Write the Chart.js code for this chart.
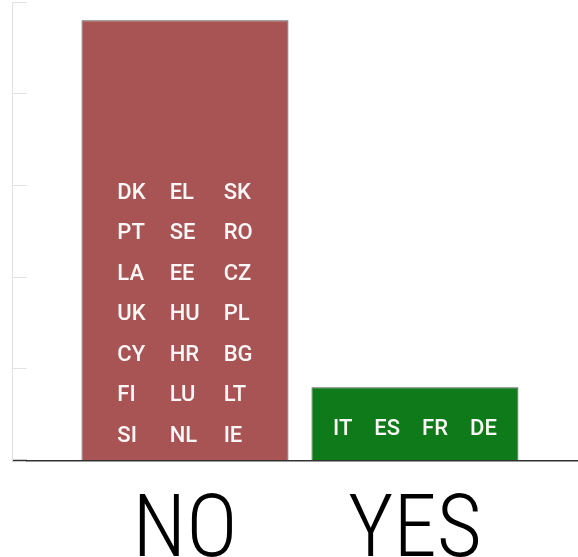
<!DOCTYPE html>
<html>
<head>
<meta charset="utf-8">
<script src="https://cdn.jsdelivr.net/npm/chart.js@4/dist/chart.umd.min.js"></script>
<style>
html, body { margin: 0; padding: 0; background: #ffffff; }
#wrap { width: 578px; height: 557px; }
</style>
</head>
<body>
<div id="wrap"><canvas id="c" width="578" height="557"></canvas></div>
<script>
// ---- data ----
const categories = ['NO', 'YES'];
const counts = [24, 4];
const noCountries = [
  ['DK', 'EL', 'SK'],
  ['PT', 'SE', 'RO'],
  ['LA', 'EE', 'CZ'],
  ['UK', 'HU', 'PL'],
  ['CY', 'HR', 'BG'],
  ['FI', 'LU', 'LT'],
  ['SI', 'NL', 'IE']
];
const yesCountries = [
  ['IT', 'ES', 'FR', 'DE']
];
const countryGroups = [noCountries, yesCountries];
const yTicks = [0, 5, 10, 15, 20, 25];

// ---- style ----
const barColors = ['#a95454', '#0f7a19'];
const X_MIN = -0.687;
const X_MAX = 1.709;
const labelStyle = {
  font: '500 22px Roboto, "Noto Sans", sans-serif',
  color: '#fbf7f7',
  colGap: [24, 22],
  rowStep: 40.5,
  bottomPad: [18.5, 25.5]
};

const countryLabels = {
  id: 'countryLabels',
  afterDatasetsDraw(chart) {
    const meta = chart.getDatasetMeta(0);
    const ctx = chart.ctx;
    ctx.save();
    ctx.font = labelStyle.font;
    ctx.fillStyle = labelStyle.color;
    ctx.textAlign = 'left';
    ctx.textBaseline = 'alphabetic';
    meta.data.forEach((bar, i) => {
      const rows = countryGroups[i];
      const nCols = Math.max(...rows.map(r => r.length));
      const colW = [];
      for (let c = 0; c < nCols; c++) {
        colW[c] = Math.max(...rows.map(r => r[c] ? ctx.measureText(r[c]).width : 0));
      }
      const gap = labelStyle.colGap[i];
      const total = colW.reduce((a, b) => a + b, 0) + gap * (nCols - 1);
      const colX = [];
      let x = bar.x - total / 2;
      for (let c = 0; c < nCols; c++) { colX[c] = x; x += colW[c] + gap; }
      const bottom = bar.base - labelStyle.bottomPad[i];
      rows.forEach((row, r) => {
        const y = bottom - (rows.length - 1 - r) * labelStyle.rowStep;
        row.forEach((t, c) => ctx.fillText(t, colX[c], y));
      });
    });
    ctx.restore();
  }
};

new Chart(document.getElementById('c'), {
  type: 'bar',
  data: {
    datasets: [{
      data: categories.map((cat, i) => ({ x: i, y: counts[i] })),
      backgroundColor: barColors,
      borderColor: '#555555',
      borderWidth: 1,
      categoryPercentage: 1,
      barPercentage: 0.9
    }]
  },
  options: {
    responsive: false,
    devicePixelRatio: 1,
    animation: false,
    layout: { padding: { top: 2, left: 12, right: 0, bottom: -50.4 } },
    plugins: { legend: { display: false }, tooltip: { enabled: false } },
    scales: {
      x: {
        type: 'linear',
        min: X_MIN,
        max: X_MAX,
        offset: false,
        afterBuildTicks: (scale) => { scale.ticks = categories.map((_, i) => ({ value: i })); },
        ticks: {
          autoSkip: false,
          maxRotation: 0,
          padding: 43,
          color: '#000000',
          font: { family: '"Roboto Condensed", "Liberation Sans Narrow", "DejaVu Sans Condensed", sans-serif', size: 87, weight: 300, lineHeight: 0.7 },
          callback: (v) => categories[v] ?? ''
        },
        grid: { display: true, offset: false, drawOnChartArea: false, drawTicks: false },
        border: { display: true, color: '#333333', width: 1.5 }
      },
      y: {
        position: 'left',
        weight: 0,
        min: 0,
        max: 25,
        afterBuildTicks: (scale) => { scale.ticks = yTicks.map(v => ({ value: v })); },
        ticks: { display: false },
        grid: {
          drawOnChartArea: false,
          drawTicks: true,
          tickLength: 15,
          color: '#e2e2e2',
          tickColor: (c) => (c.tick && c.tick.value === 0 ? '#333333' : '#e2e2e2'),
          tickWidth: (c) => (c.tick && c.tick.value === 0 ? 1.5 : 1)
        },
        border: { display: false }
      },
      yLine: {
        type: 'linear',
        position: 'left',
        weight: 1,
        min: 0,
        max: 25,
        ticks: { display: false },
        grid: { drawOnChartArea: false, drawTicks: false },
        border: { display: true, color: '#e2e2e2', width: 1 }
      }
    }
  },
  plugins: [countryLabels]
});
</script>
</body>
</html>
